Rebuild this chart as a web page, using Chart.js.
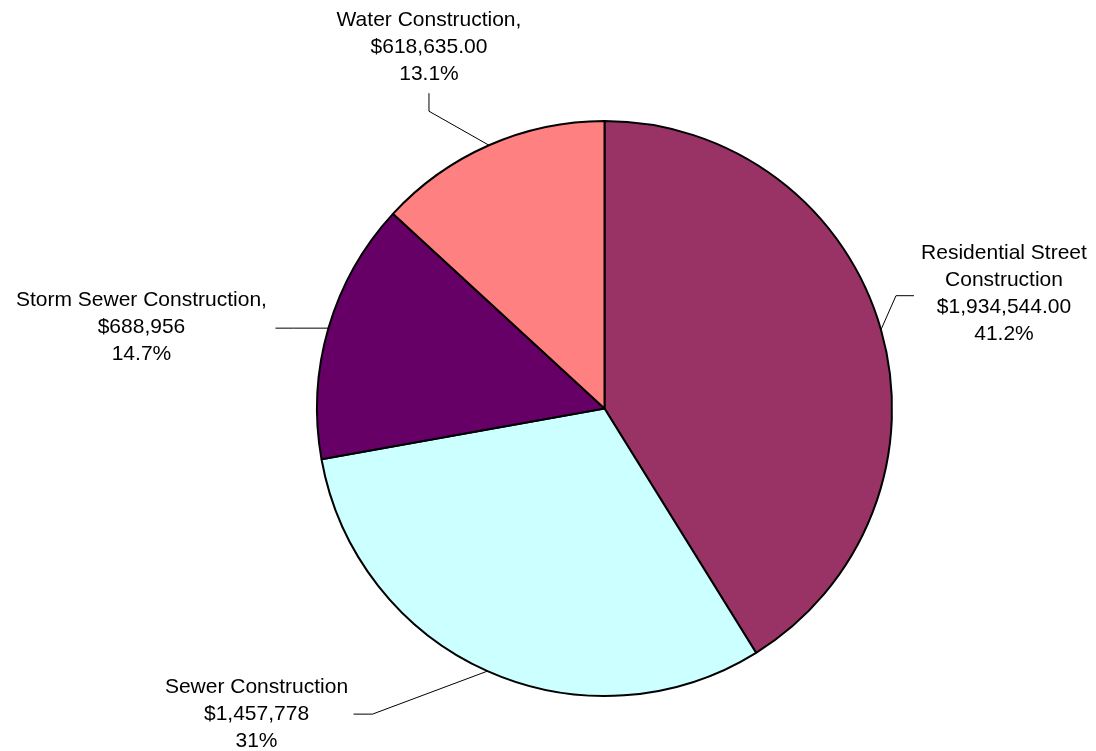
<!DOCTYPE html>
<html>
<head>
<meta charset="utf-8">
<script src="https://cdn.jsdelivr.net/npm/chart.js@4"></script>
<style>
  html, body { margin: 0; padding: 0; background: #fff; }
  #wrap { width: 1096px; height: 751px; }
</style>
</head>
<body>
<div id="wrap"><canvas id="myChart" width="1096" height="751"></canvas></div>
<script>
// data
const categories = ['Residential Street Construction', 'Sewer Construction', 'Storm Sewer Construction', 'Water Construction'];
const amounts = [1934544, 1457778, 688956, 618635];
const amountText = ['$1,934,544.00', '$1,457,778', '$688,956', '$618,635.00'];
const percentText = ['41.2%', '31%', '14.7%', '13.1%'];
const labelLines = [
	['Residential Street', 'Construction', amountText[0], percentText[0]],
	['Sewer Construction', amountText[1], percentText[1]],
	['Storm Sewer Construction,', amountText[2], percentText[2]],
	['Water Construction,', amountText[3], percentText[3]]
];
const colors = ['#993366', '#CCFFFF', '#660066', '#FF8080'];

// label placement relative to each slice's mid point on the rim
// elbow = bend of leader, end = where leader stops, text = centre of the label block
const leaderLayout = [
	{ elbow: [15, -34], end: [33, -34], text: [123, -36] },
	{ elbow: [-115, 43], end: [-134, 43], text: [-231, 43] },
	{ elbow: [-35, 0], end: [-53, 0], text: [-187, -1] },
	{ elbow: [-60, -34], end: [-60, -52], text: [-60, -98] }
];

const lineHeight = 27;

const pieLabels = {
	id: 'pieLabels',
	afterDatasetsDraw(chart) {
		const c = chart.ctx;
		const meta = chart.getDatasetMeta(0);
		c.save();
		c.font = '21px "Liberation Sans", Arial, sans-serif';
		c.fillStyle = '#000';
		c.textAlign = 'center';
		c.textBaseline = 'middle';
		meta.data.forEach((arc, i) => {
			const mid = (arc.startAngle + arc.endAngle) / 2;
			const px = arc.x + Math.cos(mid) * arc.outerRadius;
			const py = arc.y + Math.sin(mid) * arc.outerRadius;
			const lay = leaderLayout[i];
			c.strokeStyle = '#000';
			c.lineWidth = 1;
			c.beginPath();
			c.moveTo(px, py);
			c.lineTo(px + lay.elbow[0], py + lay.elbow[1]);
			c.lineTo(px + lay.end[0], py + lay.end[1]);
			c.stroke();
			const lines = labelLines[i];
			const cx = px + lay.text[0];
			const cy = py + lay.text[1] - (lines.length - 1) * lineHeight / 2;
			lines.forEach((t, j) => c.fillText(t, cx, cy + j * lineHeight));
		});
		c.restore();
	}
};

const ctx = document.getElementById('myChart').getContext('2d');
let myChart = new Chart(ctx, {
	type: 'pie',
	data: {
		labels: categories,
		datasets: [
			{
				data: amounts,
				backgroundColor: colors,
				borderColor: '#000',
				borderWidth: 2,
				borderAlign: 'center'
			}
		]
	},
	options: {
		responsive: false,
		animation: false,
		devicePixelRatio: 1,
		layout: { padding: { top: 120, bottom: 54, left: 316, right: 203 } },
		plugins: {
			legend: { display: false },
			tooltip: { enabled: false }
		}
	},
	plugins: [pieLabels]
});
</script>
</body>
</html>
